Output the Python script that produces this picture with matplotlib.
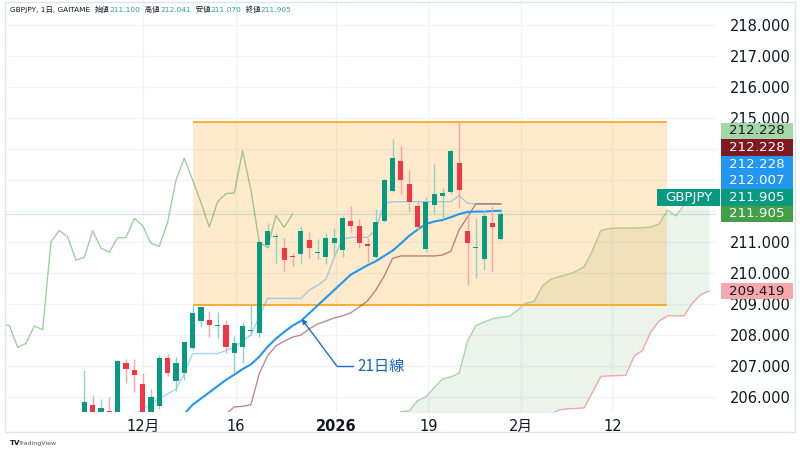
import numpy as np
import matplotlib
matplotlib.use('Agg')
import matplotlib.pyplot as plt
from matplotlib.patches import Rectangle

plt.rcParams['font.family'] = ['DejaVu Sans', 'Noto Sans CJK JP']

# GBPJPY daily candles, bar 0 = first candle on screen
opens = [205.40, 205.74, 205.50, 205.55, 205.45, 207.09, 206.87, 206.41, 205.45, 205.71,
         207.27, 206.53, 206.76, 207.57, 208.46, 208.48, 208.28, 208.32, 207.43, 207.62,
         208.14, 208.05, 210.90, 211.15, 210.82, 210.53, 210.60, 211.07, 210.65, 210.51,
         210.96, 210.74, 211.68, 211.50, 210.92, 210.50, 211.68, 212.65, 213.62, 212.86,
         212.17, 210.77, 212.19, 212.48, 212.62, 213.54, 211.36, 210.80, 210.45, 211.60,
         211.100]
highs = [206.87, 206.07, 205.93, 206.01, 207.18, 207.22, 207.22, 206.76, 206.26, 207.35,
         207.38, 207.30, 207.79, 208.97, 208.95, 208.77, 208.74, 208.48, 207.98, 208.41,
         209.00, 211.05, 211.60, 211.30, 211.12, 210.63, 211.52, 211.33, 211.09, 211.30,
         211.44, 211.85, 212.17, 211.74, 211.14, 212.05, 213.05, 214.32, 214.11, 213.32,
         212.28, 212.46, 213.50, 212.75, 213.97, 214.86, 211.95, 211.76, 212.03, 212.17,
         212.041]
lows = [205.30, 205.30, 205.35, 205.40, 205.35, 206.46, 206.17, 205.30, 205.35, 205.60,
        206.68, 206.20, 206.55, 207.50, 208.27, 207.93, 207.90, 207.41, 206.82, 207.09,
        208.00, 207.93, 210.80, 210.31, 210.08, 210.21, 210.29, 210.47, 210.44, 210.28,
        210.58, 210.53, 211.33, 210.80, 210.34, 210.47, 211.63, 212.62, 212.54, 211.98,
        211.39, 210.69, 211.89, 211.74, 212.54, 212.11, 209.61, 209.83, 210.10, 210.08,
        211.070]
closes = [205.85, 205.45, 205.63, 205.50, 207.16, 206.90, 206.71, 205.45, 205.99, 207.27,
          206.76, 207.09, 207.76, 208.70, 208.89, 208.32, 208.31, 207.60, 207.73, 208.29,
          208.17, 211.01, 211.37, 211.17, 210.42, 210.50, 211.36, 210.80, 210.67, 211.14,
          211.14, 211.76, 211.53, 210.96, 210.86, 211.63, 212.99, 213.70, 213.00, 212.28,
          211.48, 212.30, 212.56, 212.58, 213.94, 212.68, 210.98, 210.83, 211.85, 211.47,
          211.905]

# ichimoku lines and 21 day average (first bar index of each list)
tenkan_start = 6
tenkan = [205.45, 205.6, 205.8, 205.95, 206.1, 206.25, 206.75, 207.4, 207.4, 207.4,
          207.4, 207.5, 207.6, 207.8, 208.0, 208.6, 209.18, 209.18, 209.18, 209.18,
          209.18, 209.45, 209.6, 209.8, 210.5, 211.1, 211.15, 211.15, 211.15, 211.4,
          212.25, 212.3, 212.3, 212.3, 212.3, 212.3, 212.3, 212.3, 212.3, 212.5,
          212.25, 212.228, 212.228, 212.228, 212.228]
kijun_start = 17
kijun = [205.45, 205.68, 205.7, 205.75, 206.75, 207.33, 207.65, 207.8, 207.93, 208.0,
         208.2, 208.35, 208.45, 208.55, 208.62, 208.72, 208.9, 209.1, 209.45, 209.9,
         210.47, 210.55, 210.55, 210.55, 210.55, 210.55, 210.58, 210.7, 211.4, 211.8,
         212.228, 212.228, 212.228, 212.228]
ma21_start = 12
ma21 = [205.45, 205.75, 205.95, 206.15, 206.35, 206.55, 206.72, 206.9, 207.05, 207.3,
        207.62, 207.88, 208.1, 208.3, 208.45, 208.7, 208.95, 209.2, 209.45, 209.7,
        209.95, 210.1, 210.25, 210.38, 210.55, 210.72, 210.95, 211.2, 211.4, 211.58,
        211.66, 211.71, 211.8, 211.9, 211.97, 211.98, 211.98, 212.0, 212.007]
cloud_start = 37
span_a = [205.3, 205.53, 205.55, 205.88, 206.0, 206.3, 206.58, 206.65, 206.77, 207.8,
          208.3, 208.42, 208.52, 208.57, 208.6, 208.8, 209.03, 209.08, 209.58, 209.8,
          209.88, 209.95, 210.05, 210.2, 210.72, 211.37, 211.43, 211.45, 211.45, 211.45,
          211.46, 211.48, 211.58, 212.03, 211.84, 212.19, 212.2, 212.22, 212.228]
span_b = [205.2, 205.2, 205.2, 205.2, 205.2, 205.2, 205.2, 205.2, 205.2, 205.2,
          205.2, 205.2, 205.2, 205.2, 205.2, 205.2, 205.2, 205.2, 205.2, 205.45,
          205.58, 205.62, 205.63, 205.65, 206.15, 206.66, 206.68, 206.69, 206.7, 207.32,
          207.5, 208.1, 208.45, 208.62, 208.62, 208.62, 209.03, 209.3, 209.419]
lag_shift = 25
lag_first = 15   # first close that still shows as lagging span

# range box
box_left, box_right = 13, 70
box_top, box_bottom = 214.86, 208.97

tick_pos = [7.1, 18.2, 30.2, 41.3, 52.4, 63.4]
tick_labels = ['12月', '16', '2026', '19', '2月', '12']
price_ticks = list(range(206, 219))
hidden_prices = [212, 213, 214]   # covered by the tags on the right

header = [('GBPJPY, 1日, GAITAME  ', 'k'), ('始値', 'k'), ('211.100', 't'), ('  高値', 'k'),
          ('212.041', 't'), ('  安値', 'k'), ('211.070', 't'), ('  終値', 'k'), ('211.905', 't')]

# right axis tags, top to bottom: (value, background, text colour)
stack_tags = [(212.228, '#a5d6a7', '#131722'),
              (212.228, '#801922', 'white'),
              (212.228, '#2196f3', 'white'),
              (212.007, '#2196f3', 'white'),
              (211.905, '#089981', 'white'),
              (211.905, '#43a047', 'white')]
spanb_tag = (209.419, '#f7a8ad', '#131722')

GREEN = '#089981'
RED = '#f23645'
DARK = '#131722'


def draw_candles(ax):
    o = np.array(opens)
    c = np.array(closes)
    x = np.arange(len(c))
    up = c >= o
    body_col = [GREEN if u else RED for u in up]
    wick_col = ['#8dd3c5' if u else '#f7a3aa' for u in up]
    ax.vlines(x, lows, highs, colors=wick_col, lw=1, zorder=4)
    ax.bar(x, np.maximum(np.abs(c - o), 0.035), bottom=np.minimum(o, c), width=0.62,
           color=body_col, lw=0, zorder=5)


def main():
    fig = plt.figure(figsize=(8, 4.5), dpi=100)
    ax = fig.add_axes([5 / 800, 38 / 450, 712 / 800, 412 / 450])
    ax.set_xlim(-9.52, 75.95)
    ax.set_ylim(205.516, 218.806)
    for s in ax.spines.values():
        s.set_visible(False)

    ax.set_yticks(price_ticks)
    ax.set_yticklabels(['' if p in hidden_prices else '%.3f' % p for p in price_ticks])
    ax.yaxis.tick_right()
    ax.tick_params(axis='y', length=0, pad=9, labelsize=10.5, labelcolor=DARK)
    ax.set_xticks(tick_pos)
    ax.set_xticklabels(tick_labels)
    ax.tick_params(axis='x', length=0, pad=5, labelsize=10.5, labelcolor=DARK)
    for lab in ax.get_xticklabels():
        if lab.get_text() == '2026':
            lab.set_fontweight('bold')
    ax.grid(color='#f0f3fa', lw=1, zorder=0)
    ax.set_axisbelow(True)

    # cloud
    xc = np.arange(cloud_start, cloud_start + len(span_a))
    ax.fill_between(xc, span_a, span_b, color='#43a047', alpha=0.11, lw=0, zorder=1)
    ax.plot(xc, span_a, color='#a5d6a7', lw=1, zorder=1.2)
    ax.plot(xc, span_b, color='#f4a8a8', lw=1, zorder=1.2)

    # range box
    ax.add_patch(Rectangle((box_left, box_bottom), box_right - box_left, box_top - box_bottom,
                           facecolor='#ff9800', alpha=0.2, lw=0, zorder=1.5))
    ax.hlines([box_top, box_bottom], box_left, box_right, color='#ffa726', lw=1.3, zorder=1.6)

    ax.axhline(closes[-1], color=GREEN, lw=1, alpha=0.18, zorder=1.7)

    # lagging span
    xl = np.arange(lag_first, len(closes)) - lag_shift
    ax.plot(xl, closes[lag_first:], color='#43a047', lw=1, alpha=0.5, zorder=2)

    ax.plot(np.arange(tenkan_start, tenkan_start + len(tenkan)), tenkan,
            color='#2196f3', lw=1, alpha=0.4, zorder=2.5)
    ax.plot(np.arange(kijun_start, kijun_start + len(kijun)), kijun,
            color='#801922', lw=1, alpha=0.5, zorder=2.6)
    ax.plot(np.arange(ma21_start, ma21_start + len(ma21)), ma21,
            color='#2196f3', lw=1.5, zorder=3)

    draw_candles(ax)

    # 21 day line note
    blue = '#1e6fc9'
    ax.annotate('', xy=(26.1, 208.52), xytext=(30.3, 207.0),
                arrowprops=dict(arrowstyle='-|>', color=blue, lw=1, mutation_scale=7,
                                shrinkA=0, shrinkB=0), zorder=6)
    ax.plot([30.3, 32.3], [207.0, 207.0], color=blue, lw=1, zorder=6)
    ax.text(32.8, 207.0, '21日線', color='#1565c0', fontsize=11, va='center', ha='left',
            family=['Noto Sans CJK JP'], zorder=6)

    # overlay in pixel units for tags, header and frame
    ov = fig.add_axes([0, 0, 1, 1])
    ov.set_xlim(0, 800)
    ov.set_ylim(450, 0)
    ov.axis('off')
    ov.patch.set_alpha(0)

    def to_px(v):
        return 450 - ax.transData.transform((0, v))[1]

    ov.add_patch(Rectangle((5, 2), 790, 430, fill=False, ec='#e0e3eb', lw=1))

    h = 16.6
    tag_size = 9.6
    ys = []
    prev = None
    for val, bg, fg in reversed(stack_tags):
        y = to_px(val)
        if prev is not None:
            y = min(y, prev - h)
        ys.append(y)
        prev = y
    ys = ys[::-1]
    for (val, bg, fg), y in zip(stack_tags, ys):
        ov.add_patch(Rectangle((721, y - h / 2), 72, h, color=bg, lw=0))
        ov.text(757, y, '%.3f' % val, color=fg, fontsize=tag_size, ha='center', va='center')
    y_price = ys[4]
    ov.add_patch(Rectangle((657, y_price - h / 2), 63, h, color=GREEN, lw=0))
    ov.text(688.5, y_price, 'GBPJPY', color='white', fontsize=tag_size, ha='center', va='center')

    val, bg, fg = spanb_tag
    y = to_px(val)
    ov.add_patch(Rectangle((721, y - h / 2), 72, h, color=bg, lw=0))
    ov.text(757, y, '%.3f' % val, color=fg, fontsize=tag_size, ha='center', va='center')

    # header line, pieces placed one after another
    fig.canvas.draw()
    r = fig.canvas.get_renderer()
    xpos = 10
    for txt, kind in header:
        t = ov.text(xpos, 9.5, txt, fontsize=5.3, va='center', ha='left',
                    color=DARK if kind == 'k' else '#22ab94')
        bb = t.get_window_extent(r)
        xpos += bb.width

    ov.text(10, 443, 'TV', fontsize=5, fontweight='bold', color=DARK, va='center')
    ov.text(19, 443, 'TradingView', fontsize=4.5, color='#50535e', va='center')

    fig.savefig('out.png', dpi=100)


if __name__ == '__main__':
    main()
